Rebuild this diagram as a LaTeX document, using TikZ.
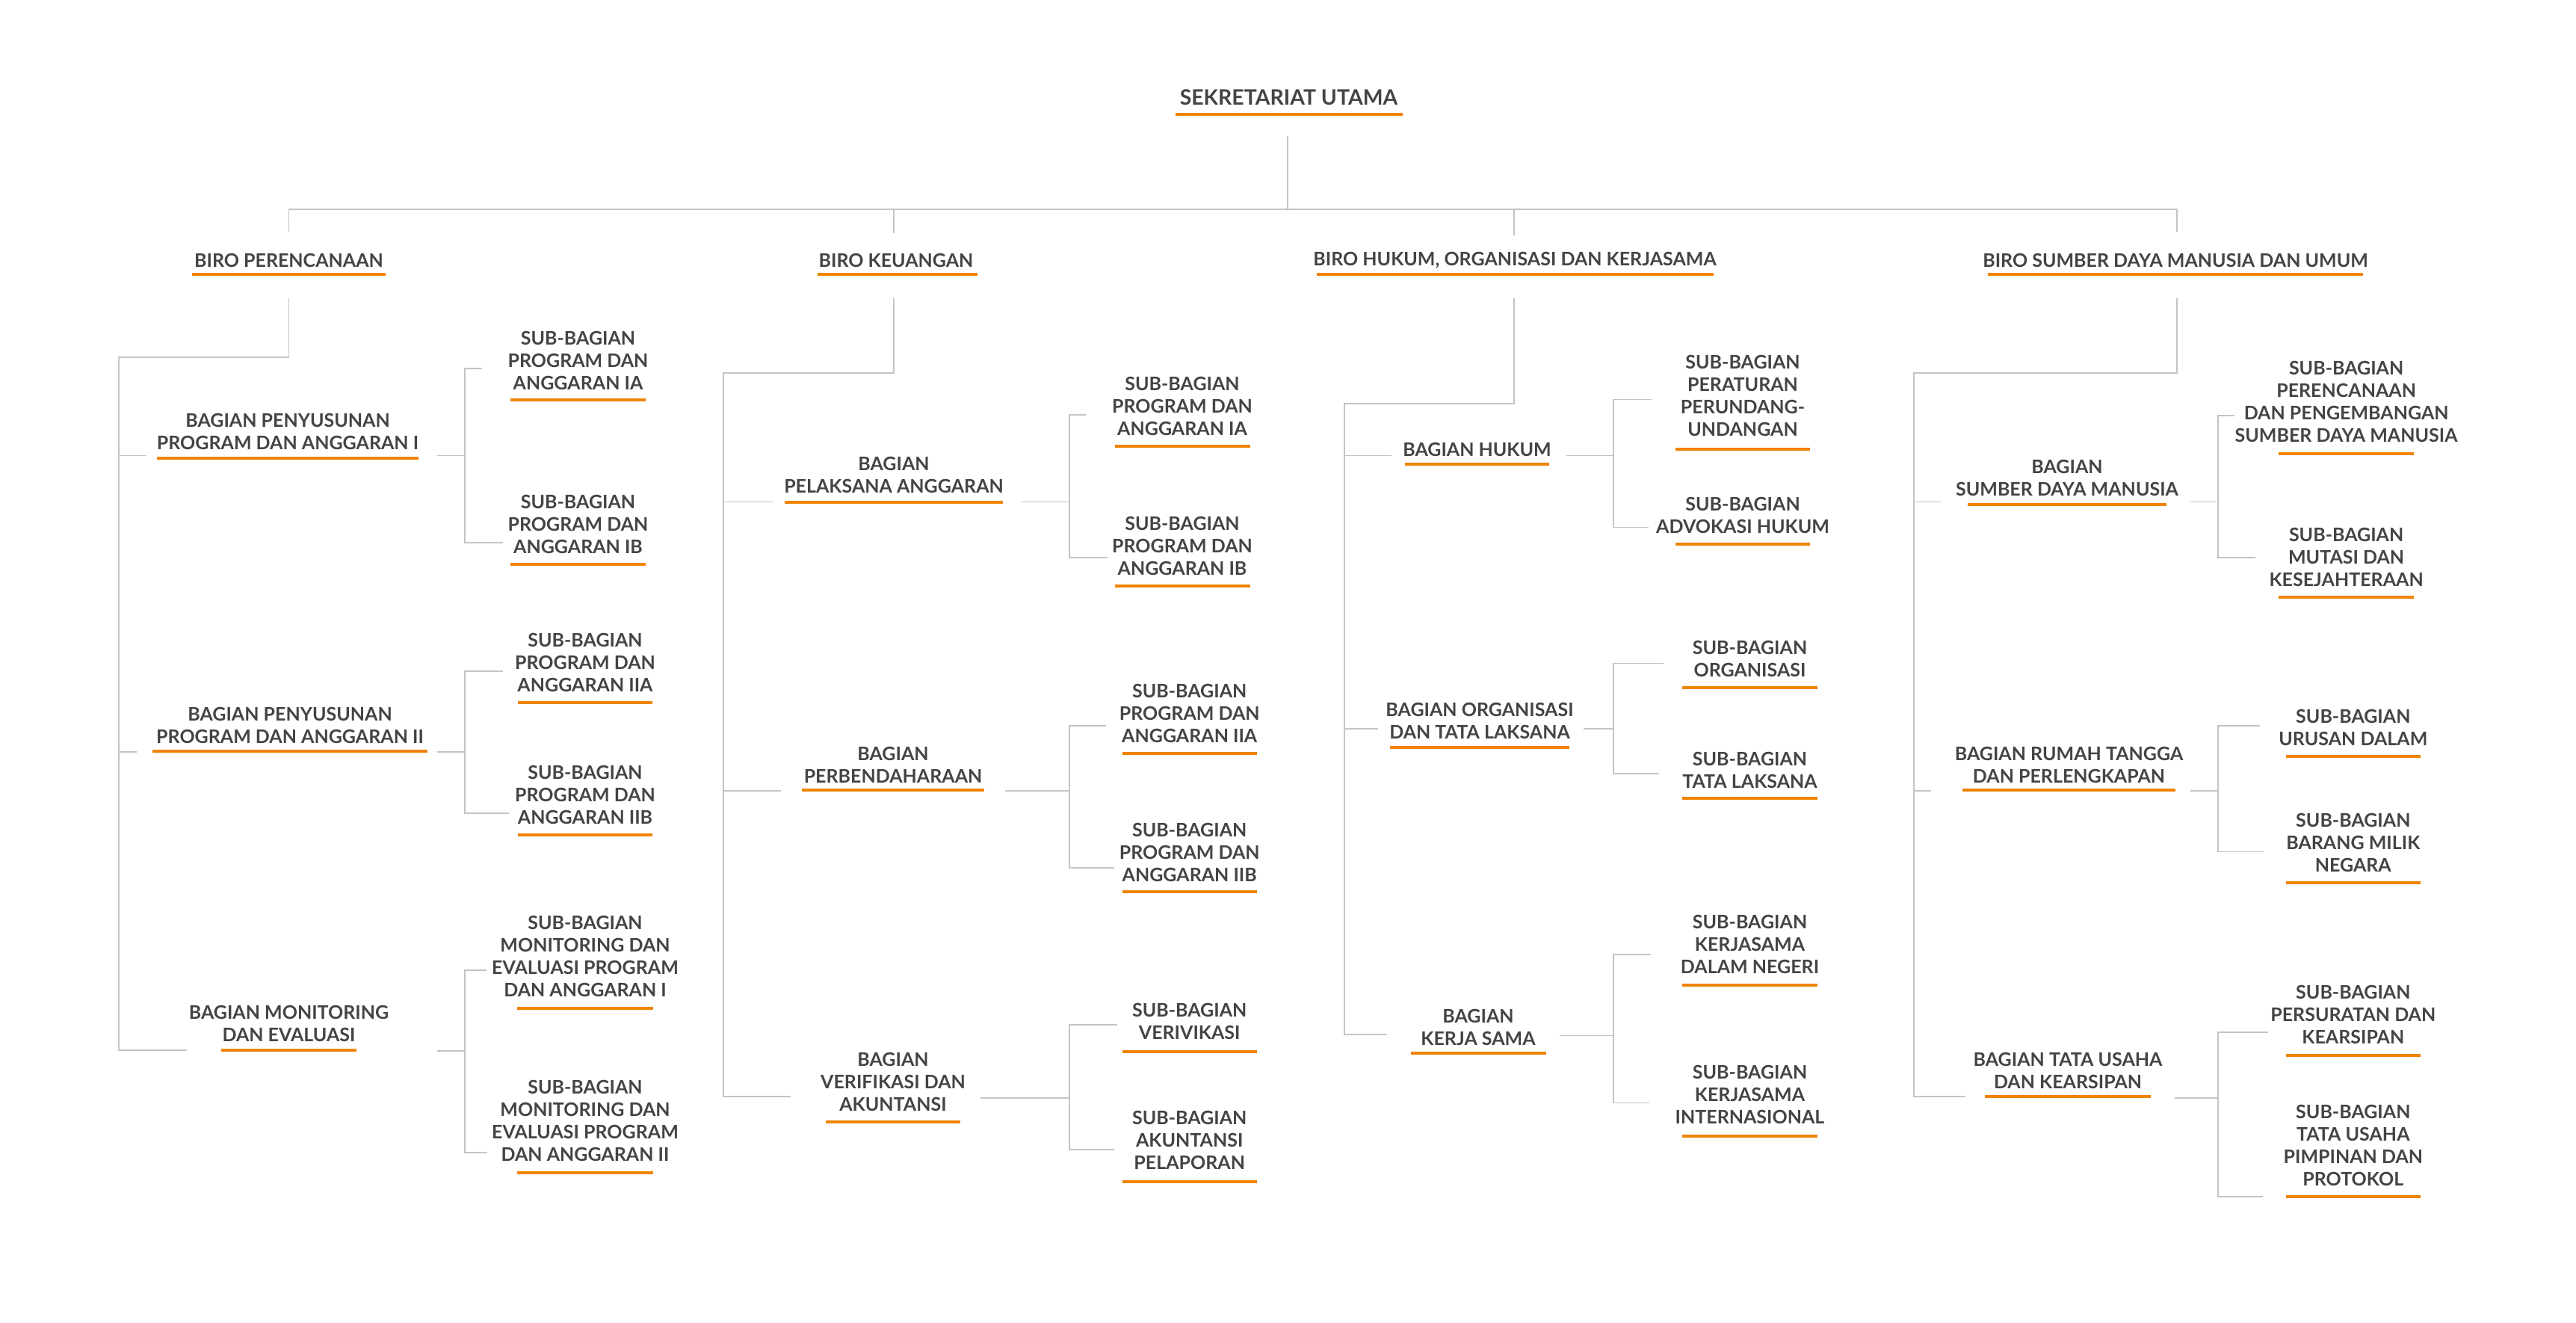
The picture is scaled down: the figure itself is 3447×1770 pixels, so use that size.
\documentclass[tikz,border=0pt]{standalone}
\usepackage{fontspec}
\setmainfont{Lato}
\definecolor{txtgray}{HTML}{444444}
\definecolor{orng}{HTML}{F08300}
\definecolor{lgray}{HTML}{C4C4C4}
\newcommand\orangeline[3]{\draw[ulbar] (#1,#3) -- (#2,#3);}
\tikzset{
  txt/.style={align=center, text=txtgray, font=\fontsize{12.5}{15}\selectfont\bfseries, inner sep=0pt},
  titletxt/.style={txt, font=\fontsize{14.2}{16}\selectfont\bfseries},
  conn/.style={draw=lgray, line width=0.85pt},
  ulbar/.style={draw=orng, line width=2pt},
}
\begin{document}
\begin{tikzpicture}[x=0.5pt,y=-0.5pt]
\useasboundingbox[fill=white] (0,0) rectangle (3447,1770);

% ---------- top ----------
\node[titletxt] (root) at (1724.5,130) {SEKRETARIAT UTAMA};
\orangeline{1572.5}{1876.5}{153.3}
\draw[conn] (1723,182) -- (1723,280);
\draw[conn] (386.5,310) -- (386.5,280) -- (2913,280) -- (2913,310);
\draw[conn] (1196,280) -- (1196,312);
\draw[conn] (2026,280) -- (2026,315);

% ---------- biro headings ----------
\node[txt] (b1) at (386.5,348) {BIRO PERENCANAAN};
\orangeline{256.7}{516.3}{367}
\node[txt] (b2) at (1199,348) {BIRO KEUANGAN};
\orangeline{1093.7}{1308}{367}
\node[txt] (b3) at (2027,348) {BIRO HUKUM, ORGANISASI DAN KERJASAMA};
\orangeline{1761.5}{2292.7}{367}
\node[txt] (b4) at (2911,348) {BIRO SUMBER DAYA MANUSIA DAN UMUM};
\orangeline{2659.7}{3162.2}{367}

% =================== BIRO PERENCANAAN ===================
\draw[conn] (386.5,399) -- (386.5,478) -- (159,478) -- (159,1405) -- (250,1405);
\draw[conn] (159,609.6) -- (196,609.6);
\draw[conn] (159,1005.7) -- (183,1005.7);

\node[txt] (p1) at (385,577.5) {BAGIAN PENYUSUNAN\\PROGRAM DAN ANGGARAN I};
\orangeline{210}{560}{612.5}
\node[txt] (p2) at (388,970) {BAGIAN PENYUSUNAN\\PROGRAM DAN ANGGARAN II};
\orangeline{204}{572}{1004.5}
\node[txt] (p3) at (386.5,1369.5) {BAGIAN MONITORING\\DAN EVALUASI};
\orangeline{296}{477}{1404.8}

\draw[conn] (585,609.6) -- (622,609.6);
\draw[conn] (645,493) -- (622,493) -- (622,726) -- (673,726);
\draw[conn] (585,1005.7) -- (622,1005.7);
\draw[conn] (673,897.8) -- (622,897.8) -- (622,1088) -- (681,1088);
\draw[conn] (585,1406) -- (622,1406);
\draw[conn] (650.5,1298) -- (622,1298) -- (622,1542) -- (652,1542);

\node[txt] (p1a) at (773.5,482.8) {SUB-BAGIAN\\PROGRAM DAN\\ANGGARAN IA};
\orangeline{683}{864}{535}
\node[txt] (p1b) at (773.5,701.5) {SUB-BAGIAN\\PROGRAM DAN\\ANGGARAN IB};
\orangeline{683}{864}{755}
\node[txt] (p2a) at (783,886.8) {SUB-BAGIAN\\PROGRAM DAN\\ANGGARAN IIA};
\orangeline{693}{873}{939.7}
\node[txt] (p2b) at (783,1063.2) {SUB-BAGIAN\\PROGRAM DAN\\ANGGARAN IIB};
\orangeline{693}{873}{1116.5}
\node[txt] (p3a) at (783,1279.6) {SUB-BAGIAN\\MONITORING DAN\\EVALUASI PROGRAM\\DAN ANGGARAN I};
\orangeline{692}{873.5}{1349.4}
\node[txt] (p3b) at (783,1499.6) {SUB-BAGIAN\\MONITORING DAN\\EVALUASI PROGRAM\\DAN ANGGARAN II};
\orangeline{692}{873.5}{1568.8}

% =================== BIRO KEUANGAN ===================
\draw[conn] (1196,399) -- (1196,499) -- (968,499) -- (968,1467) -- (1058.4,1467);
\draw[conn] (968,671.6) -- (1035,671.6);
\draw[conn] (968,1058) -- (1045,1058);

\node[txt] (k1) at (1196,635.5) {BAGIAN\\PELAKSANA ANGGARAN};
\orangeline{1050.4}{1342}{671.6}
\node[txt] (k2) at (1195,1023.5) {BAGIAN\\PERBENDAHARAAN};
\orangeline{1073.4}{1317.3}{1057.4}
\node[txt] (k3) at (1195,1447.5) {BAGIAN\\VERIFIKASI DAN\\AKUNTANSI};
\orangeline{1105}{1285}{1500.9}

\draw[conn] (1367,671.6) -- (1431,671.6);
\draw[conn] (1452.8,555) -- (1431,555) -- (1431,746) -- (1481.5,746);
\draw[conn] (1345,1058) -- (1431,1058);
\draw[conn] (1479.8,970.7) -- (1431,970.7) -- (1431,1160.7) -- (1491,1160.7);
\draw[conn] (1311.6,1468.7) -- (1431,1468.7);
\draw[conn] (1494.7,1371) -- (1431,1371) -- (1431,1538) -- (1491,1538);

\node[txt] (k1a) at (1582,543.6) {SUB-BAGIAN\\PROGRAM DAN\\ANGGARAN IA};
\orangeline{1491.8}{1672.6}{597}
\node[txt] (k1b) at (1582,730) {SUB-BAGIAN\\PROGRAM DAN\\ANGGARAN IB};
\orangeline{1491.8}{1672.6}{783.5}
\node[txt] (k2a) at (1591.7,954) {SUB-BAGIAN\\PROGRAM DAN\\ANGGARAN IIA};
\orangeline{1501.6}{1681.8}{1008}
\node[txt] (k2b) at (1591.7,1140.7) {SUB-BAGIAN\\PROGRAM DAN\\ANGGARAN IIB};
\orangeline{1501.6}{1681.8}{1193.4}
\node[txt] (k3a) at (1591.7,1366.5) {SUB-BAGIAN\\VERIVIKASI};
\orangeline{1501.6}{1681.8}{1406.7}
\node[txt] (k3b) at (1591.7,1525.6) {SUB-BAGIAN\\AKUNTANSI\\PELAPORAN};
\orangeline{1501.6}{1681.8}{1580.7}

% =================== BIRO HUKUM ===================
\draw[conn] (2026,399) -- (2026,540) -- (1799,540) -- (1799,1384) -- (1855.5,1384);
\draw[conn] (1799,609.6) -- (1862,609.6);
\draw[conn] (1799,974.7) -- (1844,974.7);

\node[txt] (h1) at (1976.5,601.6) {BAGIAN HUKUM};
\orangeline{1880}{2073}{621}
\node[txt] (h2) at (1980,964.5) {BAGIAN ORGANISASI\\DAN TATA LAKSANA};
\orangeline{1859.5}{2100}{1000}
\node[txt] (h3) at (1978,1374.6) {BAGIAN\\KERJA SAMA};
\orangeline{1887.7}{2068.5}{1409}

\draw[conn] (2096,609.6) -- (2159,609.6);
\draw[conn] (2210,534.4) -- (2159,534.4) -- (2159,705.5) -- (2205.7,705.5);
\draw[conn] (2119,974.7) -- (2159,974.7);
\draw[conn] (2226,887.5) -- (2159,887.5) -- (2159,1035) -- (2219.5,1035);
\draw[conn] (2087.4,1385.5) -- (2159,1385.5);
\draw[conn] (2208.5,1277) -- (2159,1277) -- (2159,1475.6) -- (2206.8,1475.6);

\node[txt] (h1a) at (2332,529.4) {SUB-BAGIAN\\PERATURAN\\PERUNDANG-\\UNDANGAN};
\orangeline{2241.8}{2422}{601}
\node[txt] (h1b) at (2332,689) {SUB-BAGIAN\\ADVOKASI HUKUM};
\orangeline{2241.8}{2422}{727.9}
\node[txt] (h2a) at (2341.5,881.7) {SUB-BAGIAN\\ORGANISASI};
\orangeline{2251}{2432}{920}
\node[txt] (h2b) at (2341.5,1030) {SUB-BAGIAN\\TATA LAKSANA};
\orangeline{2251}{2432}{1068.3}
\node[txt] (h3a) at (2341.5,1263.4) {SUB-BAGIAN\\KERJASAMA\\DALAM NEGERI};
\orangeline{2251}{2432}{1318.3}
\node[txt] (h3b) at (2341.5,1464.8) {SUB-BAGIAN\\KERJASAMA\\INTERNASIONAL};
\orangeline{2251}{2432}{1520.4}

% =================== BIRO SDM DAN UMUM ===================
\draw[conn] (2913,399) -- (2913,499) -- (2561,499) -- (2561,1467) -- (2630,1467);
\draw[conn] (2561,671.6) -- (2597,671.6);
\draw[conn] (2561,1058) -- (2584,1058);

\node[txt] (s1) at (2766,639.5) {BAGIAN\\SUMBER DAYA MANUSIA};
\orangeline{2632.5}{2899}{674.5}
\node[txt] (s2) at (2768.5,1023.6) {BAGIAN RUMAH TANGGA\\DAN PERLENGKAPAN};
\orangeline{2626}{2911}{1057.4}
\node[txt] (s3) at (2767,1432.5) {BAGIAN TATA USAHA\\DAN KEARSIPAN};
\orangeline{2656}{2878}{1467}

\draw[conn] (2930.5,671.6) -- (2968,671.6);
\draw[conn] (2989.6,555.7) -- (2968,555.7) -- (2968,746) -- (3017.7,746);
\draw[conn] (2930.5,1058) -- (2968,1058);
\draw[conn] (3024,970.7) -- (2968,970.7) -- (2968,1139.5) -- (3029,1139.5);
\draw[conn] (2909.8,1468.7) -- (2968,1468.7);
\draw[conn] (3035,1381) -- (2968,1381) -- (2968,1600.8) -- (3027.5,1600.8);

\node[txt] (s1a) at (3139.6,537.3) {SUB-BAGIAN\\PERENCANAAN\\DAN PENGEMBANGAN\\SUMBER DAYA MANUSIA};
\orangeline{3049}{3230}{606.7}
\node[txt] (s1b) at (3139.6,745.6) {SUB-BAGIAN\\MUTASI DAN\\KESEJAHTERAAN};
\orangeline{3049}{3230}{799}
\node[txt] (s2a) at (3148.8,973.5) {SUB-BAGIAN\\URUSAN DALAM};
\orangeline{3058.5}{3239}{1012}
\node[txt] (s2b) at (3148.8,1127.5) {SUB-BAGIAN\\BARANG MILIK\\NEGARA};
\orangeline{3058.5}{3239}{1180.8}
\node[txt] (s3a) at (3148.8,1357) {SUB-BAGIAN\\PERSURATAN DAN\\KEARSIPAN};
\orangeline{3058.5}{3239}{1412}
\node[txt] (s3b) at (3148.8,1532) {SUB-BAGIAN\\TATA USAHA\\PIMPINAN DAN\\PROTOKOL};
\orangeline{3058.5}{3239}{1601.3}
\end{tikzpicture}
\end{document}
